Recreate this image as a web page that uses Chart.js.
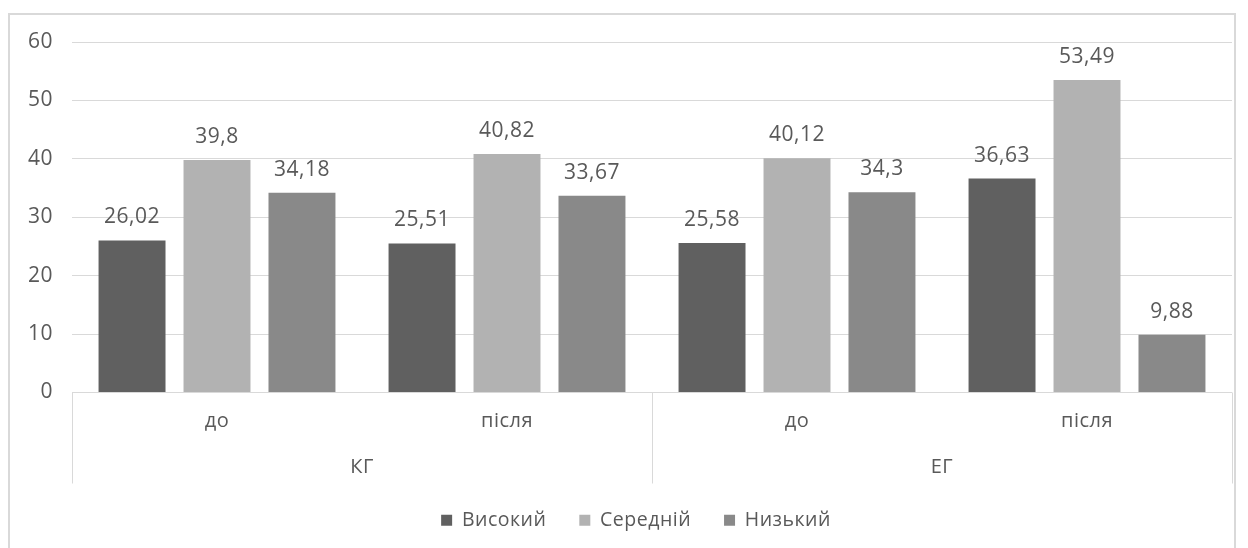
<!DOCTYPE html>
<html lang="uk">
<head>
<meta charset="utf-8">
<title>Рівні: КГ та ЕГ</title>
<script src="https://cdn.jsdelivr.net/npm/chart.js@4.4.1/dist/chart.umd.min.js"></script>
<style>
  html, body { margin: 0; padding: 0; background: #fff; overflow: hidden; }
  .frame {
    position: absolute; left: 8px; top: 13px; width: 1228px; height: 560px;
    border: 2px solid #d9d9d9; box-sizing: border-box;
  }
  .wrap { position: absolute; left: 0; top: 0; width: 1248px; height: 548px; }
</style>
</head>
<body>
<div class="frame"></div>
<div class="wrap"><canvas id="levels" width="1248" height="548"></canvas></div>
<script>
  const subLabels = ['до', 'після', 'до', 'після'];
  const groupLabels = ['КГ', 'ЕГ'];
  const seriesNames = ['Високий', 'Середній', 'Низький'];
  const highValues = [26.02, 25.51, 25.58, 36.63];
  const midValues = [39.8, 40.82, 40.12, 53.49];
  const lowValues = [34.18, 33.67, 34.3, 9.88];
  const yTicks = [0, 10, 20, 30, 40, 50, 60];

  const textColor = '#595959';
  const lineColor = '#d9d9d9';
  const fontFamily = '"Open Sans", "Noto Sans", sans-serif';
  const fontSize = 21;
  const letterSpacing = '0.5px';

  const fmt = v => String(v).replace('.', ',');

  // canvas letter spacing is reset whenever the canvas is resized, so set it each pass
  const spacing = {
    id: 'spacing',
    beforeLayout(chart) { chart.ctx.letterSpacing = letterSpacing; },
    // centre the legend under the plot area rather than the whole canvas
    afterLayout(chart) { chart.legend.left += 40; },
    beforeDraw(chart) { chart.ctx.letterSpacing = letterSpacing; }
  };

  // values above each bar
  const valueLabels = {
    id: 'valueLabels',
    afterDatasetsDraw(chart) {
      const ctx = chart.ctx;
      ctx.save();
      ctx.letterSpacing = letterSpacing;
      ctx.font = `${fontSize}px ${fontFamily}`;
      ctx.fillStyle = textColor;
      ctx.textAlign = 'center';
      ctx.textBaseline = 'alphabetic';
      chart.data.datasets.forEach((ds, di) => {
        chart.getDatasetMeta(di).data.forEach((bar, i) => {
          ctx.fillText(fmt(ds.data[i]), bar.x, bar.y - 17);
        });
      });
      ctx.restore();
    }
  };

  // second level of the category axis: КГ / ЕГ with divider lines
  const groupAxis = {
    id: 'groupAxis',
    afterDraw(chart) {
      const ctx = chart.ctx;
      const x = chart.scales.x;
      const area = chart.chartArea;
      const top = area.bottom;
      const bottom = area.bottom + 91;
      const perGroup = subLabels.length / groupLabels.length;
      const edges = [area.left];
      for (let g = 1; g < groupLabels.length; g++) {
        edges.push((x.getPixelForValue(g * perGroup - 1) + x.getPixelForValue(g * perGroup)) / 2);
      }
      edges.push(area.right);

      ctx.save();
      ctx.strokeStyle = lineColor;
      ctx.lineWidth = 1;
      edges.forEach(px => {
        const sx = Math.round(px) + 0.5;
        ctx.beginPath();
        ctx.moveTo(sx, top);
        ctx.lineTo(sx, bottom);
        ctx.stroke();
      });
      ctx.letterSpacing = letterSpacing;
      ctx.font = `20px ${fontFamily}`;
      ctx.fillStyle = textColor;
      ctx.textAlign = 'center';
      ctx.textBaseline = 'middle';
      groupLabels.forEach((name, g) => {
        ctx.fillText(name, (edges[g] + edges[g + 1]) / 2, area.bottom + 75);
      });
      ctx.restore();
    }
  };

  const ctx = document.getElementById('levels').getContext('2d');
  const chart = new Chart(ctx, {
    type: 'bar',
    data: {
      labels: subLabels,
      datasets: [
        { label: seriesNames[0], data: highValues, backgroundColor: '#606060' },
        { label: seriesNames[1], data: midValues, backgroundColor: '#b2b2b2' },
        { label: seriesNames[2], data: lowValues, backgroundColor: '#898989' }
      ]
    },
    options: {
      responsive: false,
      animation: false,
      devicePixelRatio: 1,
      layout: { padding: { left: 0, right: 16, top: 42, bottom: 8 } },
      datasets: {
        bar: { categoryPercentage: 0.879, barPercentage: 0.788, borderWidth: 0 }
      },
      scales: {
        x: {
          grid: { display: false, drawTicks: false },
          border: { display: false },
          ticks: { color: textColor, font: { family: fontFamily, size: 20 }, padding: 17, maxRotation: 0 },
          afterFit(scale) { scale.height = 85; }
        },
        y: {
          min: 0,
          max: 60,
          afterBuildTicks(scale) { scale.ticks = yTicks.map(v => ({ value: v })); },
          grid: { color: lineColor, lineWidth: 1, drawTicks: false },
          border: { display: false },
          ticks: { color: textColor, font: { family: fontFamily, size: fontSize }, padding: 19 },
          afterFit(scale) { scale.width = 72; }
        }
      },
      plugins: {
        legend: {
          position: 'bottom',
          labels: {
            color: textColor,
            font: { family: fontFamily, size: 19.5 },
            boxWidth: 11,
            boxHeight: 11,
            padding: 33
          }
        },
        tooltip: { enabled: false }
      }
    },
    plugins: [spacing, valueLabels, groupAxis]
  });
</script>
</body>
</html>
